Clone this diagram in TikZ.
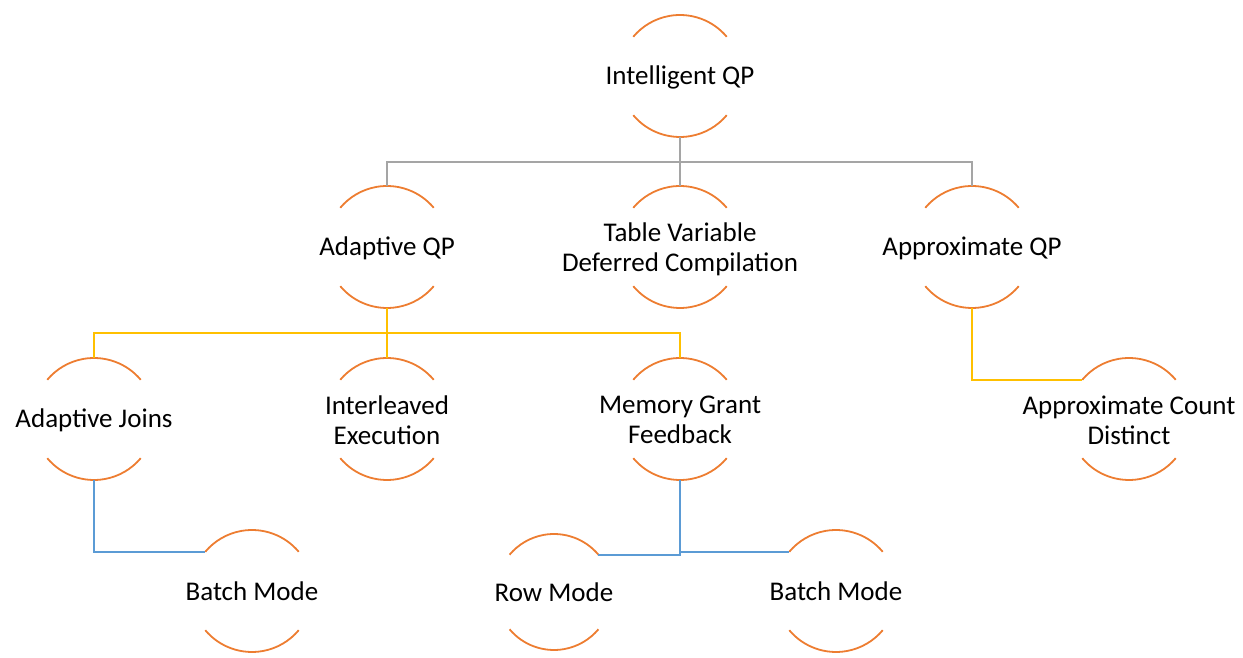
\documentclass[tikz,border=0pt]{standalone}
\usepackage{fontspec}
\setmainfont{Carlito}
\definecolor{qporange}{HTML}{ED7D31}
\definecolor{qpgray}{HTML}{A5A5A5}
\definecolor{qpgold}{HTML}{FFC000}
\definecolor{qpblue}{HTML}{5B9BD5}

\begin{document}
\begin{tikzpicture}[x=1pt, y=1pt,
    qpnode/.style={circle, minimum size=122pt, inner sep=0pt, outer sep=0pt},
    qptext/.style={align=center, inner sep=0pt, yshift=-1pt, font=\fontsize{27}{30}\selectfont},
    qparc/.style={draw=qporange, line width=1.8pt},
    grayline/.style={draw=qpgray, line width=1.8pt},
    goldline/.style={draw=qpgold, line width=1.8pt},
    blueline/.style={draw=qpblue, line width=1.8pt}]

    \useasboundingbox (0,0) rectangle (1243,658);

    % top level
    \draw (680,582) node[qpnode](iqp){};
    \draw (680,582) node[qptext](iqp-t){Intelligent QP};

    % second level
    \draw (387,411) node[qpnode](aqp){};
    \draw (387,411) node[qptext](aqp-t){Adaptive QP};
    \draw (680,411) node[qpnode](tvd){};
    \draw (680,410) node[qptext](tvd-t){Table Variable\\Deferred Compilation};
    \draw (972,411) node[qpnode](apx){};
    \draw (972,411) node[qptext](apx-t){Approximate QP};

    % third level
    \draw (94,239) node[qpnode](aj){};
    \draw (94,239) node[qptext](aj-t){Adaptive Joins};
    \draw (387,239) node[qpnode](ie){};
    \draw (387,239) node[qptext](ie-t){Interleaved\\Execution};
    \draw (680,239) node[qpnode](mgf){};
    \draw (680,239) node[qptext](mgf-t){Memory Grant\\Feedback};
    \draw (1129,239) node[qpnode](acd){};
    \draw (1129,239) node[qptext](acd-t){Approximate Count\\Distinct};

    % bottom level
    \draw (252,67) node[qpnode](bm1){};
    \draw (252,68) node[qptext](bm1-t){Batch Mode};
    \draw (554,66) node[qpnode, minimum size=116pt](rm){};
    \draw (554,67) node[qptext](rm-t){Row Mode};
    \draw (836,67) node[qpnode](bm2){};
    \draw (836,68) node[qptext](bm2-t){Batch Mode};

    % open circles
    \foreach \n/\r in {iqp/61, aqp/61, tvd/61, apx/61, aj/61, ie/61, mgf/61, acd/61, bm1/61, rm/58, bm2/61} {
        \draw[qparc] (\n.40) arc (40:140:\r);
        \draw[qparc] (\n.220) arc (220:320:\r);
    }

    % connectors
    \draw[grayline] (iqp.south) -- ++(0,-25) coordinate (gbus);
    \draw[grayline] (gbus) -| (aqp.north);
    \draw[grayline] (gbus) -| (apx.north);
    \draw[grayline] (gbus) -- (tvd.north);

    \draw[goldline] (aqp.south) -- ++(0,-25) coordinate (ybus);
    \draw[goldline] (ybus) -| (aj.north);
    \draw[goldline] (ybus) -| (mgf.north);
    \draw[goldline] (ybus) -- (ie.north);
    \draw[goldline] (apx.south) |- (acd.140);

    \draw[blueline] (aj.south) |- (bm1.140);
    \draw[blueline] (mgf.south) |- (rm.40);
    \draw[blueline] (mgf.south) |- (bm2.140);

\end{tikzpicture}
\end{document}
